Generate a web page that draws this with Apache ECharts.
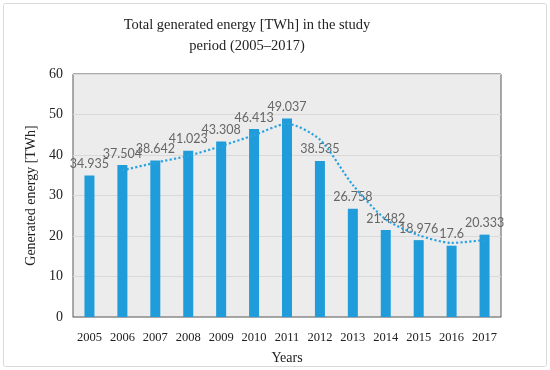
<!DOCTYPE html>
<html>
<head>
<meta charset="utf-8">
<script src="https://cdn.jsdelivr.net/npm/echarts@6/dist/echarts.min.js"></script>
<style>html,body{margin:0;padding:0;background:#fff}#c{width:550px;height:370px}</style>
</head>
<body>
<div id="c"></div>
<script>
const years = ['2005','2006','2007','2008','2009','2010','2011','2012','2013','2014','2015','2016','2017'];
const energy = [34.935,37.504,38.642,41.023,43.308,46.413,49.037,38.535,26.758,21.482,18.976,17.6,20.333];
const energyLabels = ['34.935','37.504','38.642','41.023','43.308','46.413','49.037','38.535','26.758','21.482','18.976','17.6','20.333'];
const trend = [null,36.2,38.1,39.8,42.2,44.9,47.7,43.8,32.6,24.1,20.2,18.3,19.0];
const yTicks = [0,10,20,30,40,50,60];

const serif = '"Liberation Serif", "DejaVu Serif", serif';
const chart = echarts.init(document.getElementById('c'), null, {renderer:'canvas'});
chart.setOption({
  animation:false,
  title:{
    text:'Total generated energy [TWh] in the study\nperiod (2005\u20132017)',
    left:242, top:10, textAlign:'center',
    textStyle:{fontFamily:serif, fontSize:14.5, fontWeight:'normal', color:'#222', lineHeight:21}
  },
  graphic:[{type:'rect', shape:{x:3.5,y:3.5,width:543,height:363,r:2}, style:{fill:'none', stroke:'#d9d9d9', lineWidth:1}, z:-1}],
  grid:{left:73, right:49, top:74, bottom:50, show:true, backgroundColor:'#ececec', borderColor:'#595959', borderWidth:1},
  xAxis:{
    type:'category', data:years,
    name:'Years', nameLocation:'middle', nameGap:34,
    nameTextStyle:{fontFamily:serif, fontSize:14, color:'#222'},
    axisLine:{show:true, lineStyle:{color:'#a6a6a6'}},
    axisTick:{show:false},
    axisLabel:{interval:0, fontFamily:serif, fontSize:12.5, color:'#222', margin:14}
  },
  yAxis:{
    type:'value', min:yTicks[0], max:yTicks[yTicks.length-1], interval:10,
    name:'Generated energy [TWh]', nameLocation:'middle', nameGap:27, nameRotate:90,
    nameTextStyle:{fontFamily:serif, fontSize:14, color:'#222'},
    axisLine:{show:false}, axisTick:{show:false},
    axisLabel:{fontFamily:serif, fontSize:14, color:'#222', margin:10},
    splitLine:{lineStyle:{color:'#d9d9d9'}}
  },
  series:[
    {
      type:'bar', data:energy, barWidth:10,
      itemStyle:{color:'#1f9cd9'},
      label:{show:true, position:'top', distance:5, color:'#666', fontFamily:'Lato, "Open Sans", sans-serif', fontSize:12.5,
        formatter:p=>energyLabels[p.dataIndex]},
      z:2
    },
    {
      type:'line', data:trend, smooth:0.25, symbol:'none',
      lineStyle:{type:'dotted', color:'#2aa3e0', width:2.2},
      z:3
    }
  ]
});
</script>
</body>
</html>
